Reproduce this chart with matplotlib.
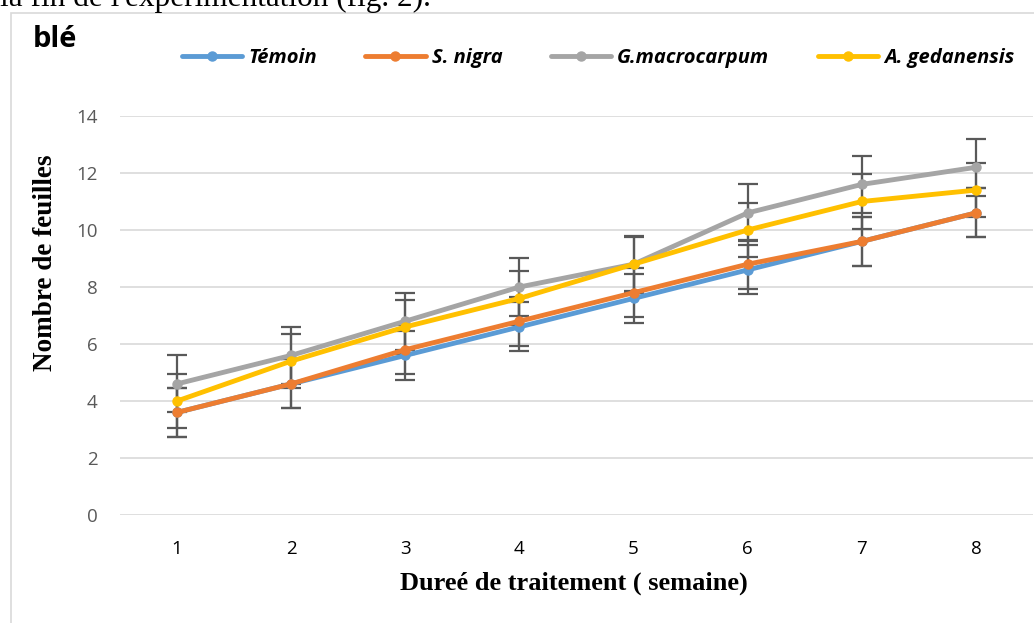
import matplotlib
matplotlib.use("Agg")
import matplotlib.pyplot as plt
from matplotlib.patches import Rectangle
from matplotlib.lines import Line2D

# weeks of treatment
weeks = [1, 2, 3, 4, 5, 6, 7, 8]

# mean number of leaves per series
temoin = [3.6, 4.6, 5.6, 6.6, 7.6, 8.6, 9.6, 10.6]
s_nigra = [3.6, 4.6, 5.8, 6.8, 7.8, 8.8, 9.6, 10.6]
g_macro = [4.6, 5.6, 6.8, 8.0, 8.8, 10.6, 11.6, 12.2]
a_gedan = [4.0, 5.4, 6.6, 7.6, 8.8, 10.0, 11.0, 11.4]

# error bar half-widths
err_temoin = [0.86] * 8
err_s_nigra = [0.86] * 8
err_g_macro = [1.0] * 8
err_a_gedan = [0.95] * 8

labels = ["Témoin", "S. nigra", "G.macrocarpum", "A. gedanensis"]
colors = ["#5B9BD5", "#ED7D31", "#A5A5A5", "#FFC000"]
series = [temoin, s_nigra, g_macro, a_gedan]
errors = [err_temoin, err_s_nigra, err_g_macro, err_a_gedan]
yticks = [0, 2, 4, 6, 8, 10, 12, 14]

W, H = 1034, 623
fig = plt.figure(figsize=(W / 100, H / 100), dpi=100)

# chart-area border (light gray), clipped by page edges
fig.patches.append(Rectangle((11 / W, -0.1), 1.2, (H - 13) / H + 0.1,
                             transform=fig.transFigure, fill=False,
                             edgecolor="#D9D9D9", lw=1.2))

# clipped running text from the page above the chart
fig.text(0 / W, 1 - 6 / H, "la fin de l'expérimentation (fig. 2).",
         family="Liberation Serif", fontsize=22.5, va="baseline", ha="left")

ax = fig.add_axes([120 / W, (H - 515) / H, (1033 - 120) / W, (515 - 116) / H])

for ys, es in zip(series, errors):
    ax.errorbar(weeks, ys, yerr=es, fmt="none", ecolor="#595959",
                elinewidth=1.6, capsize=7, capthick=1.6, zorder=2)
for ys, c, lab in zip(series, colors, labels):
    ax.plot(weeks, ys, color=c, lw=3.5, marker="o", ms=6.5,
            solid_capstyle="round", label=lab, zorder=3)

ax.set_xlim(0.5, 8.5)
ax.set_ylim(0, 14)
ax.set_yticks(yticks)
ax.set_xticks(weeks)
ax.grid(axis="y", color="#D9D9D9", lw=1.2)
ax.set_axisbelow(True)
for s in ax.spines.values():
    s.set_visible(False)
ax.tick_params(length=0, labelsize=13.5, labelcolor="#595959", pad=16)
ax.tick_params(axis="x", labelcolor="black", pad=18)
for t in ax.get_xticklabels() + ax.get_yticklabels():
    t.set_family("Open Sans")

ax.set_xlabel("Dureé de traitement ( semaine)", family="Liberation Serif",
              fontweight="bold", fontsize=19)
ax.set_ylabel("Nombre de feuilles", family="Liberation Serif",
              fontweight="bold", fontsize=19.5)
ax.xaxis.label.set_va("center")
ax.yaxis.label.set_va("center")
ax.xaxis.set_label_coords(0.497, -0.170)
ax.yaxis.set_label_coords(-0.082, 0.632)

fig.text(33 / W, 1 - 25 / H, "blé", family="Open Sans", fontweight="bold",
         fontsize=21, va="top", ha="left")

handles = [Line2D([0], [0], color=c, lw=3.5, marker="o", ms=6.5,
                  solid_capstyle="round") for c in colors]
leg = fig.legend(handles, labels, loc="center", ncol=4,
                 bbox_to_anchor=(598 / W, 1 - 58 / H), frameon=False,
                 handlelength=3.0, handletextpad=0.3, columnspacing=2.4,
                 prop={"family": "Open Sans", "weight": "bold",
                       "style": "italic", "size": 14.5})

fig.savefig("out.png", dpi=100)
